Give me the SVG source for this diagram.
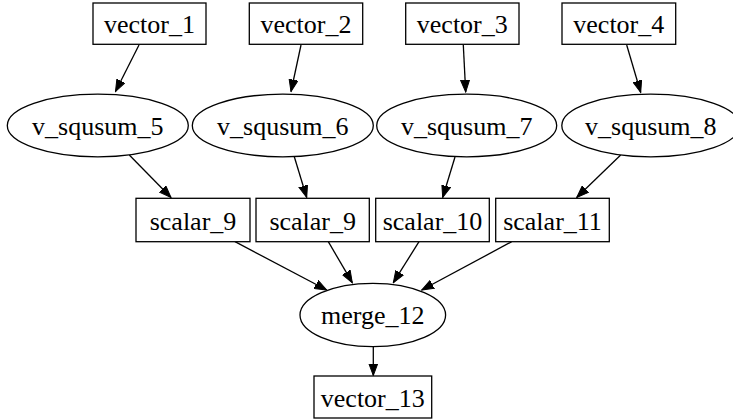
<svg xmlns="http://www.w3.org/2000/svg" width="733" height="419" viewBox="0 0 733 419">
<style>
.n{fill:#fff;stroke:#000;stroke-width:1.3}
.t{font-family:'Liberation Serif','Times New Roman',serif;font-size:26px;text-anchor:middle;fill:#000}
.e{fill:none;stroke:#000;stroke-width:1.3;marker-end:url(#arr)}
</style>
<defs>
<marker id="arr" markerWidth="13" markerHeight="10" refX="12" refY="5" orient="auto" markerUnits="userSpaceOnUse">
<path d="M0,0.5 L12,5 L0,9.5 Z" fill="#000" stroke="#000" stroke-width="1"/>
</marker>
</defs>
<rect width="733" height="419" fill="#fff"/>
<g id="edges">
<path class="e" d="M139,45 L115.5,91.5"/>
<path class="e" d="M301,45 L291,91.5"/>
<path class="e" d="M463.3,45 L465.7,92"/>
<path class="e" d="M626.7,45 L640.7,92.5"/>
<path class="e" d="M129.3,155 L171,197.5"/>
<path class="e" d="M294.3,156.7 L306.7,197.5"/>
<path class="e" d="M455,157 L442.7,197.5"/>
<path class="e" d="M620.7,155 L576.7,197.5"/>
<path class="e" d="M235,241.7 L326.7,290"/>
<path class="e" d="M328.3,241.7 L352.3,282.7"/>
<path class="e" d="M419,241.7 L393.3,282.7"/>
<path class="e" d="M511.7,241.7 L421.7,290"/>
<path class="e" d="M373.3,347 L373.3,375.5"/>
</g>
<g id="vector_1"><rect class="n" x="93" y="3" width="113" height="41.3"/><text class="t" x="149.5" y="32.6">vector_1</text></g>
<g id="vector_2"><rect class="n" x="249.3" y="3" width="113.4" height="41.3"/><text class="t" x="306" y="32.6">vector_2</text></g>
<g id="vector_3"><rect class="n" x="405.7" y="3" width="113.3" height="41.3"/><text class="t" x="462.3" y="32.6">vector_3</text></g>
<g id="vector_4"><rect class="n" x="562" y="3" width="113.7" height="41.3"/><text class="t" x="618.8" y="32.6">vector_4</text></g>
<g id="v_squsum_5"><ellipse class="n" cx="97.8" cy="125.5" rx="90.5" ry="31.3"/><text class="t" x="97.8" y="134.8">v_squsum_5</text></g>
<g id="v_squsum_6"><ellipse class="n" cx="282.8" cy="125.5" rx="90.5" ry="31.3"/><text class="t" x="282.8" y="134.8">v_squsum_6</text></g>
<g id="v_squsum_7"><ellipse class="n" cx="466.7" cy="125.5" rx="90" ry="31.3"/><text class="t" x="466.7" y="134.8">v_squsum_7</text></g>
<g id="v_squsum_8"><ellipse class="n" cx="650.8" cy="125.5" rx="89" ry="31.3"/><text class="t" x="650.8" y="134.8">v_squsum_8</text></g>
<g id="scalar_9a"><rect class="n" x="136" y="198.3" width="114" height="43.4"/><text class="t" x="193" y="229.5">scalar_9</text></g>
<g id="scalar_9b"><rect class="n" x="256" y="198.3" width="113.3" height="43.4"/><text class="t" x="312.7" y="229.5">scalar_9</text></g>
<g id="scalar_10"><rect class="n" x="375.7" y="198.3" width="113.6" height="43.4"/><text class="t" x="432.5" y="229.5">scalar_10</text></g>
<g id="scalar_11"><rect class="n" x="495.7" y="198.3" width="113.6" height="43.4"/><text class="t" x="552.5" y="229.5">scalar_11</text></g>
<g id="merge_12"><ellipse class="n" cx="372.8" cy="315" rx="72.8" ry="31.7"/><text class="t" x="372.8" y="324.3">merge_12</text></g>
<g id="vector_13"><rect class="n" x="314" y="376" width="117.7" height="42"/><text class="t" x="372.8" y="406.8">vector_13</text></g>
</svg>
